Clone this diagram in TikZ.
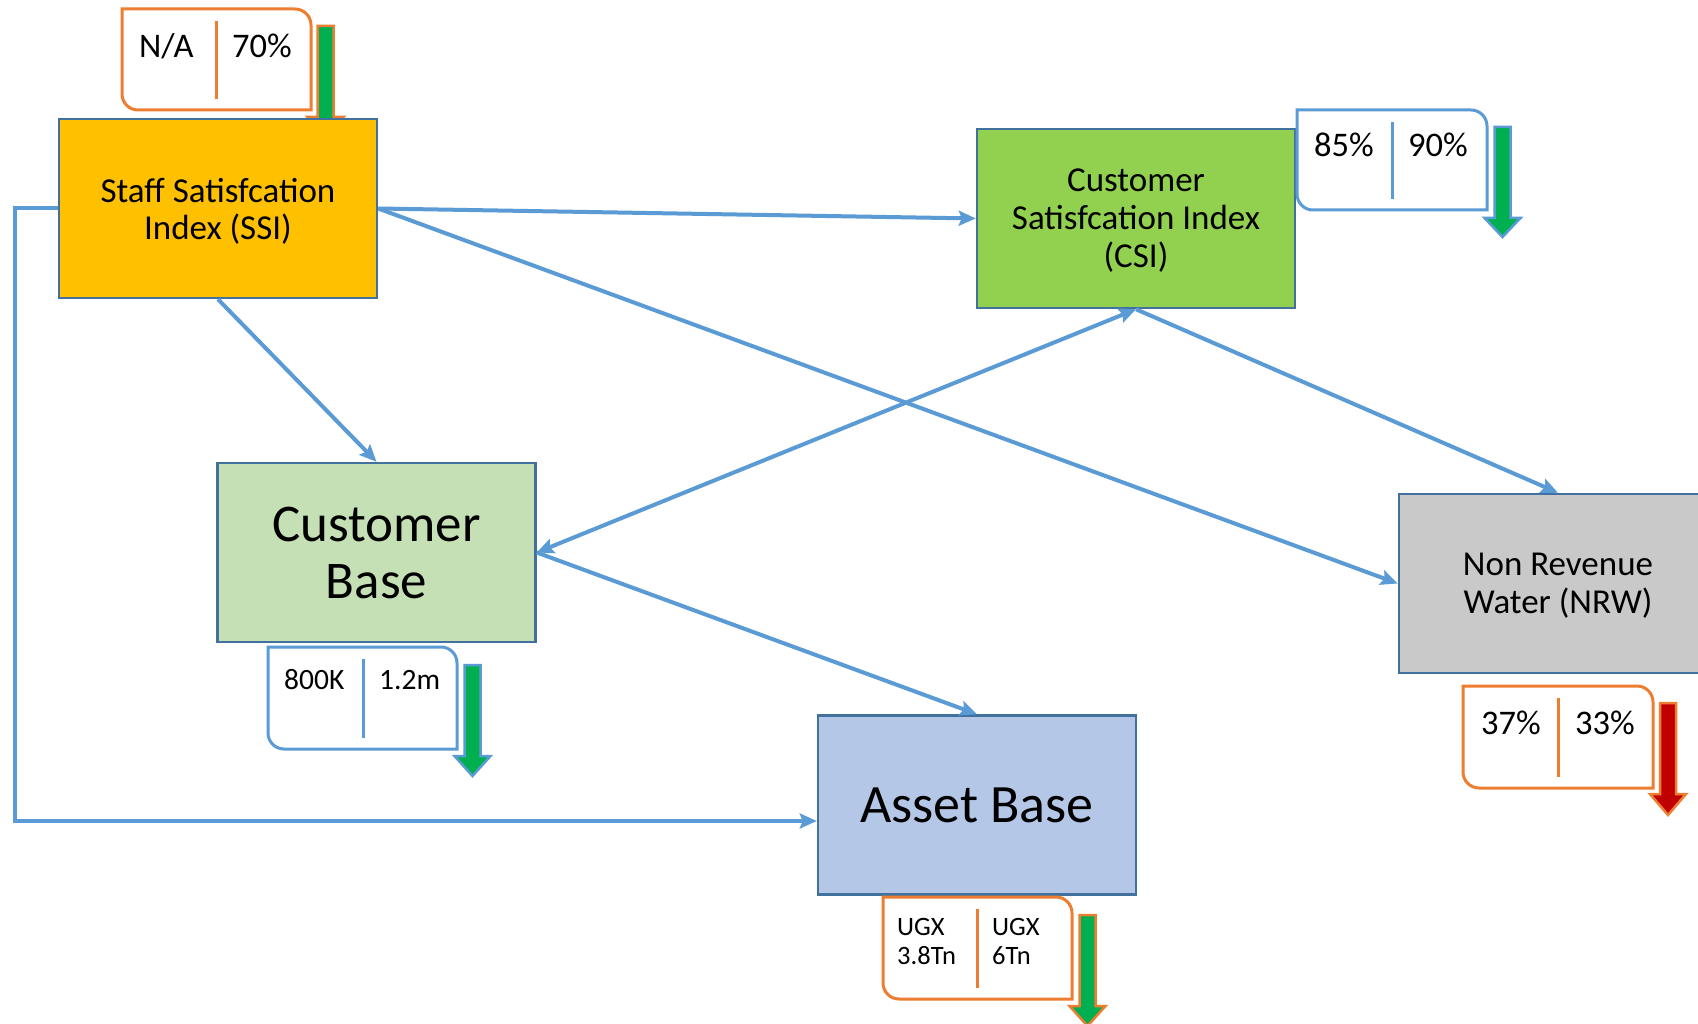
\documentclass[tikz,border=0pt]{standalone}
\usepackage{fontspec}
\setmainfont{Carlito}
\usetikzlibrary{arrows.meta}
\definecolor{bordblue}{HTML}{41719C}
\definecolor{linkblue}{HTML}{5B9BD5}
\definecolor{calorange}{HTML}{ED7D31}
\definecolor{kgreen}{HTML}{00B050}
\definecolor{kred}{HTML}{C00000}
\definecolor{ssifill}{HTML}{FFC000}
\definecolor{csifill}{HTML}{92D050}
\definecolor{cbfill}{HTML}{C5E0B4}
\definecolor{nrwfill}{HTML}{C9C9C9}
\definecolor{abfill}{HTML}{B4C7E7}
% callout frame: L T R B divider colour
\newcommand{\kpishape}[6]{%
  \draw[kpiline,draw=#6] (#1,#2) -- (#3-16,#2) arc[start angle=90,end angle=0,radius=16pt]
     -- (#3,#4) -- (#1+16,#4) arc[start angle=270,end angle=180,radius=16pt] -- cycle;
  \draw[kpiline,draw=#6] (#5,#2+12) -- (#5,#4-11);
}
% block arrow: centre x, top, head top, tip, outline, fill
\newcommand{\kpiarrow}[6]{%
  \filldraw[draw=#5,fill=#6,line width=2.5pt,line join=miter]
    (#1-8,#2) -- (#1+8,#2) -- (#1+8,#3) -- (#1+18,#3) -- (#1,#4)
    -- (#1-18,#3) -- (#1-8,#3) -- cycle;
}
\tikzset{
  kpiline/.style={line width=3pt},
  mainbox/.style={draw=bordblue, line width=2.5pt, minimum width=318pt,
    minimum height=179pt, inner sep=0pt, align=center, text=black},
  link/.style={draw=linkblue, line width=4pt,
    -{Stealth[length=17pt,width=15pt,inset=3pt]}},
  dlink/.style={draw=linkblue, line width=4pt,
    {Stealth[length=17pt,width=15pt,inset=3pt]}-{Stealth[length=17pt,width=15pt,inset=3pt]}},
  kpitext/.style={anchor=base west, inner sep=0pt, font=\fontsize{34.5}{40}\selectfont},
}
\begin{document}
\begin{tikzpicture}[x=1pt,y=-1pt]
\useasboundingbox (0,0) rectangle (1698,1024);
\clip (0,0) rectangle (1698,1024);
\fill[white] (0,0) rectangle (1698,1024);

% arrow behind SSI
\kpiarrow{325.5}{26}{117}{137}{calorange}{kgreen}

% main boxes
\node[mainbox, fill=ssifill, text depth=0pt, font=\fontsize{35}{37}\selectfont] (ssi) at (218,208.5) {Staff Satisfcation\\Index (SSI)};
\node[mainbox, fill=csifill, text depth=0pt, font=\fontsize{35}{38}\selectfont] (csi) at (1136,218.5) {Customer\\Satisfcation Index\\(CSI)};
\node[mainbox, fill=cbfill, font=\fontsize{53}{57}\selectfont] (cb) at (376.5,552.5) {Customer\\Base};
\node[mainbox, fill=nrwfill, text depth=0pt, font=\fontsize{35}{38}\selectfont] (nrw) at (1558,583.5) {Non Revenue\\Water (NRW)};
\node[mainbox, fill=abfill, font=\fontsize{54}{60}\selectfont] (ab) at (977,805) {Asset Base};

% connectors
\coordinate (elb) at (15,821);
\draw[link] (ssi.east) -- (csi.west);
\draw[link] (ssi.east) -- (nrw.west);
\draw[link] (ssi.south) -- (cb.north);
\draw[dlink] (csi.south) -- (cb.east);
\draw[link] (csi.south) -- (nrw.north);
\draw[link] (cb.east) -- (ab.north);
\draw[link] (ssi.west) -| (elb) |- ([yshift=-16pt]ab.west);

% callouts
\kpishape{122}{9}{311}{110}{216}{calorange}
\node[kpitext] (ssiold) at (139,58) {N/A};
\node[kpitext] (ssinew) at (232,58) {70\%};

\kpishape{1297}{110}{1487}{210}{1392}{linkblue}
\node[kpitext] (csiold) at (1314,157) {85\%};
\node[kpitext] (csinew) at (1408,157) {90\%};
\kpiarrow{1502.5}{127}{218}{237}{linkblue}{kgreen}

\kpishape{268}{647}{457}{749}{363}{linkblue}
\node[kpitext, font=\fontsize{29.5}{35}\selectfont] (cbold) at (284,689) {800K};
\node[kpitext, font=\fontsize{29.5}{35}\selectfont] (cbnew) at (379,689) {1.2m};
\kpiarrow{472.5}{665}{756}{776}{linkblue}{kgreen}

\kpishape{1463}{686}{1653}{788}{1558}{calorange}
\node[kpitext] (nrwold) at (1481,734) {37\%};
\node[kpitext] (nrwnew) at (1575,734) {33\%};
\kpiarrow{1668}{703}{794}{815}{calorange}{kred}

\kpishape{883}{897}{1072}{999}{977}{calorange}
\node[anchor=north west, inner sep=0pt, align=left, font=\fontsize{26.5}{29}\selectfont] (abold) at (897,918.5) {UGX\\3.8Tn};
\node[anchor=north west, inner sep=0pt, align=left, font=\fontsize{26.5}{29}\selectfont] (abnew) at (992,918.5) {UGX\\6Tn};
\kpiarrow{1087.5}{915}{1006}{1026}{calorange}{kgreen}
\end{tikzpicture}
\end{document}
